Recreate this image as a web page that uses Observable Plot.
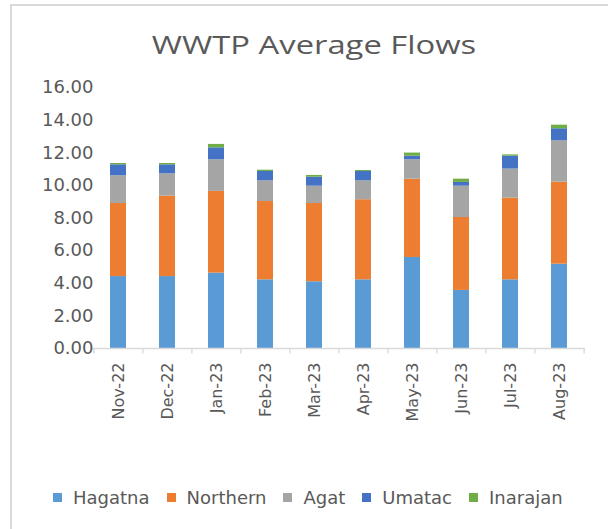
<!DOCTYPE html>
<html>
<head>
<meta charset="utf-8">
<script src="https://cdn.jsdelivr.net/npm/d3@7"></script>
<script src="https://cdn.jsdelivr.net/npm/@observablehq/plot@0.6"></script>
<style>
  html, body { margin: 0; padding: 0; background: #fff; }
  #frame { position: relative; width: 608px; height: 529px; overflow: hidden; }
  #border { position: absolute; left: 10px; top: 4px; width: 620px; height: 560px;
            border-left: 2px solid #d9d9d9; border-top: 2px solid #d9d9d9; box-sizing: border-box; }
  #title { position: absolute; left: 0; top: 26px; width: 628px; text-align: center;
           font-family: "Open Sans", sans-serif; font-size: 26px; color: #595959;
           transform: scaleX(1.26); transform-origin: 314px 0; white-space: nowrap; }
  #chart { position: absolute; left: 0; top: 0; }
  #legend { position: absolute; left: 53px; top: 487px; display: flex; align-items: center;
            font-family: "DejaVu Sans", sans-serif; font-size: 18px; color: #595959; white-space: nowrap; }
  .item { display: flex; align-items: center; margin-right: 17px; }
  .sw { width: 9px; height: 9px; margin-right: 11px; }
</style>
</head>
<body>
<div id="frame">
  <div id="border"></div>
  <div id="chart"></div>
  <div id="title">WWTP Average Flows</div>
  <div id="legend"></div>
</div>
<script>
const months = ["Nov-22","Dec-22","Jan-23","Feb-23","Mar-23","Apr-23","May-23","Jun-23","Jul-23","Aug-23"];
const series = ["Hagatna","Northern","Agat","Umatac","Inarajan"];
const colors = ["#5b9bd5","#ed7d31","#a5a5a5","#4472c4","#70ad47"];
const hagatna  = [4.41, 4.41, 4.62, 4.21, 4.09, 4.21, 5.58, 3.56, 4.21, 5.17];
const northern = [4.48, 4.93, 5.01, 4.80, 4.80, 4.91, 4.80, 4.47, 5.01, 5.03];
const agat     = [1.70, 1.37, 1.94, 1.27, 1.06, 1.16, 1.19, 1.92, 1.78, 2.53];
const umatac   = [0.67, 0.55, 0.73, 0.57, 0.55, 0.57, 0.22, 0.23, 0.79, 0.74];
const inarajan = [0.08, 0.08, 0.21, 0.08, 0.11, 0.06, 0.19, 0.20, 0.08, 0.22];
const yTicks = [0, 2, 4, 6, 8, 10, 12, 14, 16];

const values = [hagatna, northern, agat, umatac, inarajan];
const data = [];
series.forEach((s, si) => months.forEach((m, mi) => data.push({month: m, series: s, value: values[si][mi]})));

const W = 608, H = 470;
const mL = 92, mR = 23, mT = 87, mB = H - 348;
const step = (W - mL - mR) / months.length;

const plot = Plot.plot({
  width: W, height: H,
  marginLeft: mL, marginRight: mR, marginTop: mT, marginBottom: mB,
  style: {background: "transparent", overflow: "visible"},
  x: {domain: months, paddingInner: 0.675, paddingOuter: 0.3375, axis: null},
  y: {domain: [0, 16], axis: null},
  color: {domain: series, range: colors},
  marks: [
    Plot.barY(data, {x: "month", y: "value", fill: "series", order: series}),
    Plot.ruleY([0], {stroke: "#d9d9d9", strokeWidth: 1.3}),
    Plot.ruleX(months, {x: d => d, dx: -step / 2, y1: 0, y2: -0.33, stroke: "#d9d9d9", strokeWidth: 1.3}),
    Plot.ruleX([months[months.length - 1]], {x: d => d, dx: step / 2, y1: 0, y2: -0.33, stroke: "#d9d9d9", strokeWidth: 1.3}),
    Plot.text(yTicks, {x: () => months[0], y: d => d, text: d => d3.format(".2f")(d), frameAnchor: "left",
      dx: -25, textAnchor: "end", fill: "#595959", fontSize: 18, fontFamily: "DejaVu Sans", lineAnchor: "middle"}),
    Plot.text(months, {x: d => d, y: 0, text: d => d, rotate: -90, textAnchor: "end", lineAnchor: "middle",
      dy: 14, fill: "#595959", fontSize: 16, fontFamily: "DejaVu Sans"})
  ]
});
document.getElementById("chart").appendChild(plot);

const legend = document.getElementById("legend");
series.forEach((s, i) => {
  const it = document.createElement("div");
  it.className = "item";
  const sw = document.createElement("div");
  sw.className = "sw";
  sw.style.background = colors[i];
  const lab = document.createElement("span");
  lab.textContent = s;
  it.appendChild(sw); it.appendChild(lab);
  legend.appendChild(it);
});
</script>
</body>
</html>
